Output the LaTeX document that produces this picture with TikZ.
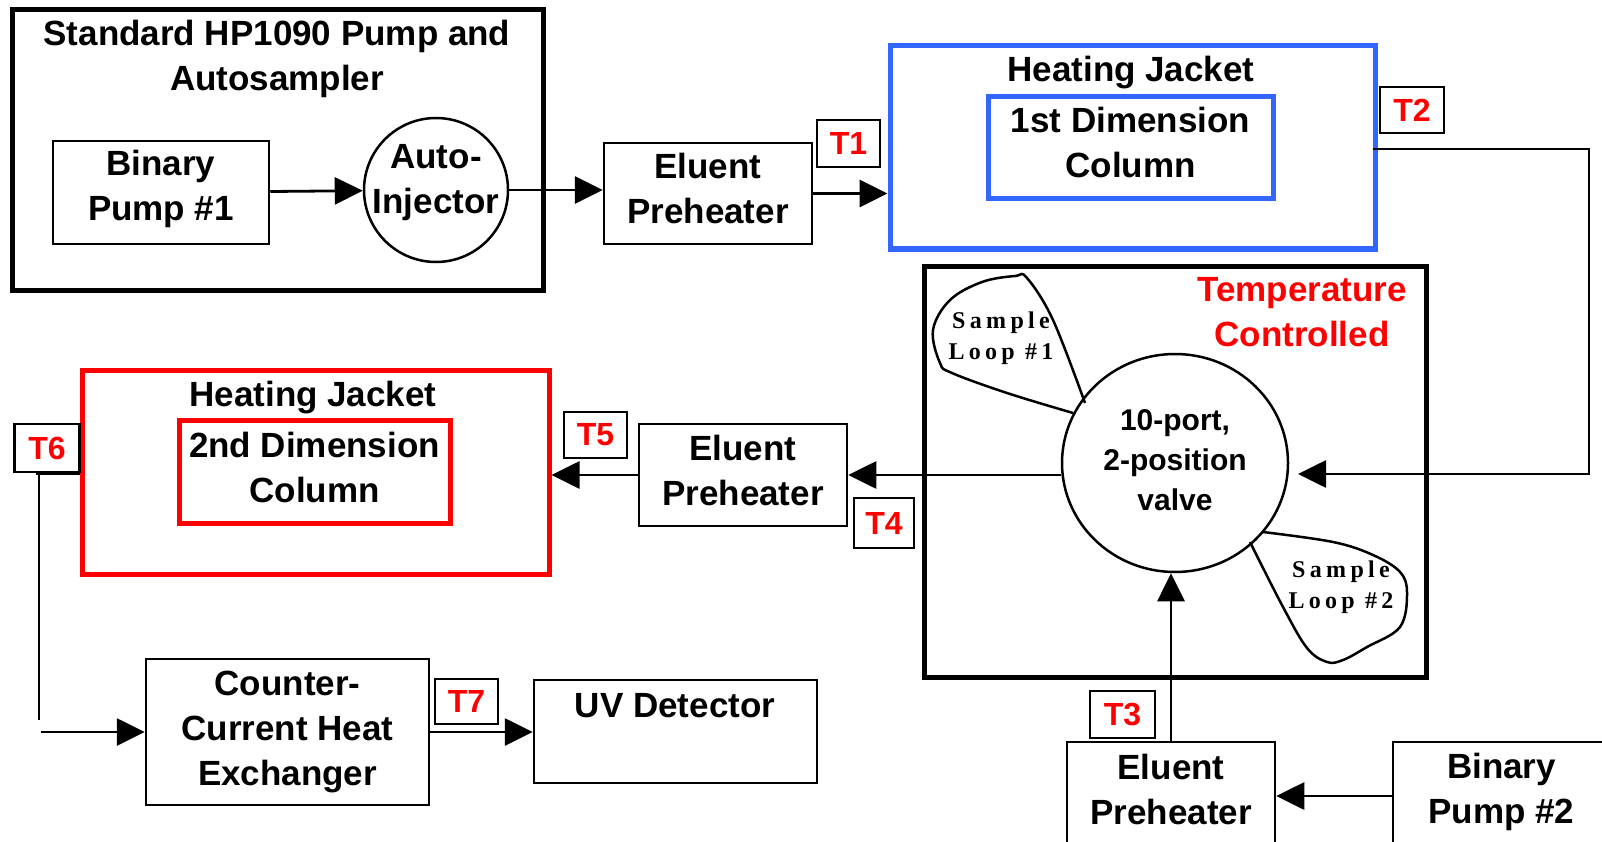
\documentclass[tikz,border=0pt]{standalone}
\usepackage{fontspec}
\setmainfont{Liberation Sans}
\newfontfamily\loopfont[LetterSpace=18]{Liberation Serif}
\usetikzlibrary{arrows.meta,shapes.geometric}
\definecolor{jblue}{RGB}{51,102,255}
\definecolor{jred}{RGB}{255,0,0}
\begin{document}
\begin{tikzpicture}[x=1pt,y=-1pt,
  every node/.style={font=\fontsize{35}{45}\selectfont\bfseries, align=center, inner sep=0pt},
  box/.style={draw, line width=2.5pt, rectangle},
  thickbox/.style={draw, line width=5pt, rectangle},
  bluebox/.style={draw=jblue, line width=5pt, rectangle},
  redbox/.style={draw=jred, line width=5pt, rectangle},
  tbox/.style={draw, line width=2.5pt, rectangle, text=jred, font=\fontsize{32}{38}\selectfont\bfseries},
  wire/.style={line width=2.8pt},
  flow/.style={line width=2.8pt, -{Triangle[length=28pt,width=27pt]}},
  looptext/.style={font=\fontsize{24}{31}\selectfont\loopfont\bfseries},
  loopline/.style={line width=2.5pt, smooth, tension=0.6}
]
\useasboundingbox (0,0) rectangle (1602,842);
\clip (0,0) rectangle (1602,842);

% Standard HP1090 block
\node[thickbox, minimum width=531pt, minimum height=280pt] (hp) at (277.5,150) {};
\node (hptitle) at (277,59) {Standard HP1090 Pump and\\Autosampler};
\node[box, minimum width=216pt, minimum height=103pt] (bp1) at (161,192.5) {};
\node (bp1t) at (161,188.5) {Binary\\Pump \#1};
\node[draw, circle, line width=2.5pt, minimum size=144pt] (inj) at (436,190) {};
\node (injt) at (436,183) {Auto-\\Injector};

% first preheater and 1st dimension
\node[box, minimum width=208pt, minimum height=101pt] (ep1) at (708,193.5) {};
\node (ep1t) at (708,188.5) {Eluent\\Preheater};
\node[tbox, minimum width=63pt, minimum height=47pt] (t1) at (848.5,143.5) {T1};
\node[bluebox, minimum width=485pt, minimum height=203pt] (blue) at (1132.5,147.5) {};
\node (bluetitle) at (1131,73) {Heating Jacket};
\node[bluebox, minimum width=285pt, minimum height=102pt] (col1) at (1130.5,148) {};
\node (col1t) at (1130.5,142) {1st Dimension\\Column};
\node[tbox, minimum width=64pt, minimum height=46pt] (t2) at (1412,110) {T2};

% temperature controlled valve
\node[thickbox, minimum width=502pt, minimum height=411pt] (temp) at (1175,471.5) {};
\node[text=jred] (temptitle) at (1302,312) {Temperature\\Controlled};
\node[draw, ellipse, line width=2.5pt, minimum width=226pt, minimum height=218pt] (valve) at (1175,463) {};
\node[font=\fontsize{30}{40}\selectfont\bfseries] (valvet) at (1175,460) {10-port,\\2-position\\valve};
\draw[loopline] plot coordinates {(1085,403) (1053,320) (1027,278) (1015,276) (982,282) (950,300) (933,330) (940,363) (952,373) (1007,393) (1073,413)};
\node[looptext] (loop1) at (1001,338) {Sample\\Loop \#1};
\draw[loopline] plot coordinates {(1263,532) (1333,542) (1373,555) (1400,572) (1407,593) (1400,627) (1367,647) (1343,660) (1327,662) (1307,648) (1283,607) (1250,542)};
\node[looptext] (loop2) at (1341,587) {Sample\\Loop \#2};

% second preheater and 2nd dimension
\node[box, minimum width=208pt, minimum height=102pt] (ep2) at (743,475) {};
\node (ep2t) at (743,470) {Eluent\\Preheater};
\node[tbox, minimum width=60pt, minimum height=50pt] (t4) at (884,523) {T4};
\node[tbox, minimum width=63pt, minimum height=46pt] (t5) at (595.5,435) {T5};
\node[redbox, minimum width=467pt, minimum height=204pt] (red) at (315.5,472) {};
\node (redtitle) at (313,398) {Heating Jacket};
\node[redbox, minimum width=271pt, minimum height=103pt] (col2) at (314.5,471.5) {};
\node (col2t) at (314.5,467.5) {2nd Dimension\\Column};
\node[tbox, minimum width=65pt, minimum height=48pt] (t6) at (47,448) {T6};

% detection
\node[box, minimum width=283pt, minimum height=146pt] (cc) at (287.5,732) {Counter-\\Current Heat\\Exchanger};
\node[tbox, minimum width=63pt, minimum height=45pt] (t7) at (466.5,701.5) {T7};
\node[box, minimum width=283pt, minimum height=103pt] (uv) at (675.5,731.5) {};
\node (uvtitle) at (675,706) {UV Detector};

% second pump
\node[box, minimum width=208pt, minimum height=108pt] (ep3) at (1171,796) {};
\node (ep3t) at (1171,789) {Eluent\\Preheater};
\node[tbox, minimum width=65pt, minimum height=47pt] (t3) at (1122.5,714.5) {T3};
\node[box, minimum width=217pt, minimum height=108pt] (bp2) at (1501.5,796) {};
\node (bp2t) at (1501.5,792) {Binary\\Pump \#2};

% connectors
\coordinate (c2a) at (1589,149);
\coordinate (c2b) at (1589,474);
\coordinate (c2c) at (1298,474);
\coordinate (c6a) at (39,474);
\coordinate (c6b) at (39,720);
\coordinate (c7) at (41,732);

\draw[flow] (bp1) -- (inj);
\draw[flow] (inj.east) -- (inj.east -| ep1.west);
\draw[flow] (ep1.east) -- (ep1.east -| blue.west);
\draw[flow] ([xshift=-5pt]blue.east |- c2a) -- (c2a) -- (c2b) -- (c2c);
\draw[flow] (valve.west |- ep2.east) -- (ep2.east);
\draw[flow] (ep2.west) -- (ep2.west -| red.east);
\draw[wire] (red.west |- c6a) -- ([xshift=-3pt]c6a) (c6a) -- (c6b);
\draw[flow] (c7) -- (c7 -| cc.west);
\draw[flow] (cc.east) -- (cc.east -| uv.west);
\draw[flow] (bp2.west) -- (bp2.west -| ep3.east);
\draw[flow] (ep3.north) -- (ep3.north |- valve.south);
\end{tikzpicture}
\end{document}
